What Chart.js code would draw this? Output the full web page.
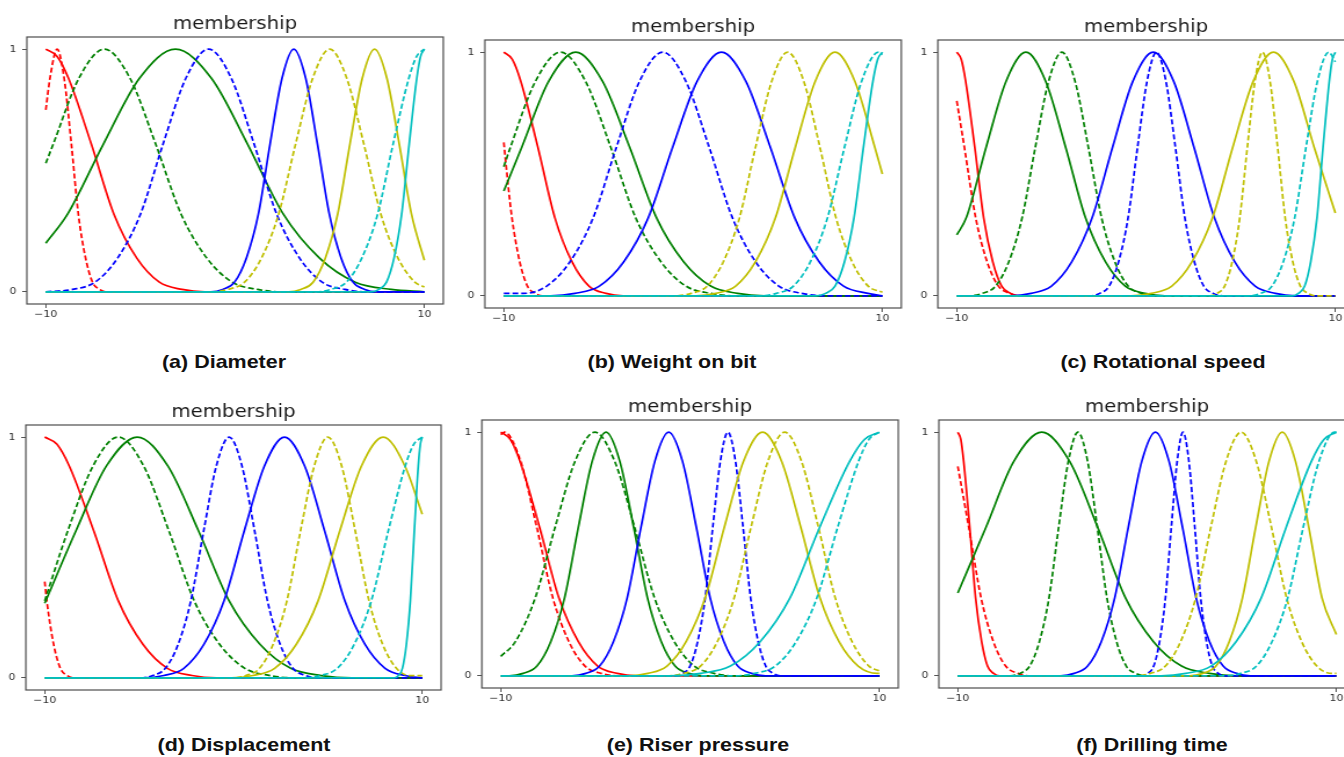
<!DOCTYPE html>
<html>
<head>
<meta charset="utf-8">
<script src="https://cdn.jsdelivr.net/npm/chart.js@4.4.1/dist/chart.umd.min.js"></script>
<style>
html, body { margin: 0; padding: 0; background: #fff; width: 1344px; height: 757px; overflow: hidden; position: relative; }
canvas { position: absolute; transform-origin: 0 0; }
.cap { position: absolute; font-family: "Liberation Sans", Arial, sans-serif; font-weight: bold; font-size: 18.5px; line-height: 18.5px; white-space: nowrap; color: #111; }
</style>
</head>
<body>
<script>
// Tick labels and texts
const xTicks = [-10, 10];
const yTicks = [0, 1];
const panelTitle = 'membership';
const captions = ['(a) Diameter', '(b) Weight on bit', '(c) Rotational speed',
                  '(d) Displacement', '(e) Riser pressure', '(f) Drilling time'];

// Curve order in every panel: red, red dashed, green, green dashed, blue, blue dashed,
// yellow, yellow dashed, cyan, cyan dashed.

// (a) Diameter
const diameterX = [
    [-10, -9.4, -8.8, -7.6, -6.4, -5.2, -4, -2.8, -1.6, 10],
    [-10, -9.78, -9.4, -9.03, -8.65, -8.28, -7.9, -7.53, -7.15, -6.78, 10],
    [-10, -8.85, -6.95, -5.05, -3.15, -1.25, 0.65, 2.55, 4.45, 6.35, 8.25, 10],
    [-10, -9.6, -8.25, -6.9, -5.55, -4.2, -2.85, -1.5, -0.15, 1.2, 2.55, 10],
    [-10, -1.28, -0.65, -0.03, 0.6, 1.23, 1.85, 2.48, 3.1, 3.73, 4.35, 4.98, 5.6, 6.23, 6.85, 7.48, 10],
    [-10, -8.6, -7.4, -6.2, -5, -3.8, -2.6, -1.4, -0.2, 1, 2.2, 3.4, 4.6, 5.8, 7, 10],
    [-10, 2.82, 3.47, 4.12, 4.77, 5.42, 6.07, 6.72, 7.37, 8.02, 8.67, 9.32, 10],
    [-10, -1.3, -0.4, 0.5, 1.4, 2.3, 3.2, 4.1, 5, 5.9, 6.8, 7.7, 8.6, 9.5, 10],
    [-10, 7.2, 7.6, 8, 8.4, 8.8, 9.2, 9.6, 9.8, 10],
    [-10, 4.23, 5.05, 5.88, 6.7, 7.53, 8.35, 9.18, 9.59, 10]
];
const diameterY = [
    [1, 0.97, 0.88, 0.61, 0.32, 0.14, 0.04, 0.01, 0, 0],
    [0.75, 0.88, 1, 0.88, 0.61, 0.32, 0.14, 0.04, 0.01, 0, 0],
    [0.2, 0.32, 0.61, 0.88, 1, 0.88, 0.61, 0.32, 0.14, 0.04, 0.01, 0],
    [0.53, 0.61, 0.88, 1, 0.88, 0.61, 0.32, 0.14, 0.04, 0.01, 0, 0],
    [0, 0, 0.01, 0.04, 0.14, 0.32, 0.61, 0.88, 1, 0.88, 0.61, 0.32, 0.14, 0.04, 0.01, 0, 0],
    [0, 0.01, 0.04, 0.14, 0.32, 0.61, 0.88, 1, 0.88, 0.61, 0.32, 0.14, 0.04, 0.01, 0, 0],
    [0, 0, 0.01, 0.04, 0.14, 0.32, 0.61, 0.88, 1, 0.88, 0.61, 0.32, 0.13],
    [0, 0, 0.01, 0.04, 0.14, 0.32, 0.61, 0.88, 1, 0.88, 0.61, 0.32, 0.14, 0.04, 0.02],
    [0, 0, 0.01, 0.04, 0.14, 0.32, 0.61, 0.88, 0.97, 1],
    [0, 0, 0.01, 0.04, 0.14, 0.32, 0.61, 0.88, 0.97, 1]
];

// (b) Weight on bit
const weightOnBitX = [
    [-10, -9.55, -9.1, -8.2, -7.3, -6.4, -5.5, -4.6, -3.7, 10],
    [-10, -9.78, -9.57, -9.16, -8.75, -8.34, -7.93, 10],
    [-10, -9.05, -7.63, -6.2, -4.78, -3.35, -1.93, -0.5, 0.93, 2.35, 3.78, 10],
    [-10, -9.65, -8.33, -7, -5.68, -4.35, -3.03, -1.7, -0.38, 0.95, 2.28, 10],
    [-10, -7.53, -6.24, -4.95, -3.66, -2.37, -1.08, 0.21, 1.5, 2.79, 4.08, 5.37, 6.66, 7.95, 9.24, 10],
    [-10, -8.95, -7.73, -6.5, -5.28, -4.05, -2.83, -1.6, -0.38, 0.85, 2.08, 3.3, 4.53, 5.75, 6.98, 10],
    [-10, 0.15, 1.2, 2.25, 3.3, 4.35, 5.4, 6.45, 7.5, 8.55, 9.6, 10],
    [-10, -0.95, -0.1, 0.75, 1.6, 2.45, 3.3, 4.15, 5, 5.85, 6.7, 7.55, 8.4, 9.25, 10],
    [-10, 6.5, 7, 7.5, 8, 8.5, 9, 9.5, 9.75, 10],
    [-10, 3.5, 4.4, 5.3, 6.2, 7.1, 8, 8.9, 9.8, 10]
];
const weightOnBitY = [
    [1, 0.97, 0.88, 0.61, 0.32, 0.14, 0.04, 0.01, 0, 0],
    [0.63, 0.46, 0.32, 0.14, 0.04, 0.01, 0, 0],
    [0.43, 0.61, 0.88, 1, 0.88, 0.61, 0.32, 0.14, 0.04, 0.01, 0, 0],
    [0.53, 0.61, 0.88, 1, 0.88, 0.61, 0.32, 0.14, 0.04, 0.01, 0, 0],
    [0, 0, 0.01, 0.04, 0.14, 0.32, 0.61, 0.88, 1, 0.88, 0.61, 0.32, 0.14, 0.04, 0.01, 0],
    [0.01, 0.01, 0.04, 0.14, 0.32, 0.61, 0.88, 1, 0.88, 0.61, 0.32, 0.14, 0.04, 0.01, 0, 0],
    [0, 0, 0.01, 0.04, 0.14, 0.32, 0.61, 0.88, 1, 0.88, 0.61, 0.5],
    [0, 0, 0.01, 0.04, 0.14, 0.32, 0.61, 0.88, 1, 0.88, 0.61, 0.32, 0.14, 0.04, 0.015],
    [0, 0, 0.01, 0.04, 0.14, 0.32, 0.61, 0.88, 0.97, 1],
    [0, 0, 0.01, 0.04, 0.14, 0.32, 0.61, 0.88, 1, 0.99]
];

// (c) Rotational speed
const rotationalSpeedX = [
    [-10, -9.76, -9.53, -9.05, -8.58, -8.1, -7.63, -7.15, -6.68, 10],
    [-10, -9.6, -9, -8.4, -7.8, -7.2, -6.6, 10],
    [-10, -9.5, -8.45, -7.4, -6.35, -5.3, -4.25, -3.2, -2.15, -1.1, -0.05, 1, 10],
    [-10, -9.35, -8.65, -7.95, -7.25, -6.55, -5.85, -5.15, -4.45, -3.75, -3.05, -2.35, -1.65, -0.95, -0.25, 0.45, 10],
    [-10, -7.15, -6.07, -5, -3.92, -2.85, -1.77, -0.7, 0.38, 1.46, 2.53, 3.61, 4.68, 5.76, 6.83, 7.91, 10],
    [-10, -2.95, -2.45, -1.95, -1.45, -0.95, -0.45, 0.05, 0.55, 1.05, 1.55, 2.05, 2.55, 3.05, 3.55, 4.05, 10],
    [-10, -0.8, 0.28, 1.36, 2.43, 3.51, 4.58, 5.66, 6.73, 7.81, 8.88, 10],
    [-10, 3.35, 3.75, 4.15, 4.55, 4.95, 5.35, 5.75, 6.15, 6.55, 6.95, 7.35, 7.75, 8.15, 8.55, 8.95, 10],
    [-10, 7.73, 8.05, 8.38, 8.7, 9.03, 9.35, 9.68, 9.84, 10],
    [-10, 5.45, 6.05, 6.65, 7.25, 7.85, 8.45, 9.05, 9.65, 10]
];
const rotationalSpeedY = [
    [1, 0.97, 0.88, 0.61, 0.32, 0.14, 0.04, 0.01, 0, 0],
    [0.8, 0.61, 0.32, 0.14, 0.04, 0.01, 0, 0],
    [0.25, 0.32, 0.61, 0.88, 1, 0.88, 0.61, 0.32, 0.14, 0.04, 0.01, 0, 0],
    [0, 0, 0.01, 0.04, 0.14, 0.32, 0.61, 0.88, 1, 0.88, 0.61, 0.32, 0.14, 0.04, 0.01, 0, 0],
    [0, 0, 0.01, 0.04, 0.14, 0.32, 0.61, 0.88, 1, 0.88, 0.61, 0.32, 0.14, 0.04, 0.01, 0, 0],
    [0, 0, 0.01, 0.04, 0.14, 0.32, 0.61, 0.88, 1, 0.88, 0.61, 0.32, 0.14, 0.04, 0.01, 0, 0],
    [0, 0, 0.01, 0.04, 0.14, 0.32, 0.61, 0.88, 1, 0.88, 0.61, 0.34],
    [0, 0, 0.01, 0.04, 0.14, 0.32, 0.61, 0.88, 1, 0.88, 0.61, 0.32, 0.14, 0.04, 0.01, 0, 0],
    [0, 0, 0.01, 0.04, 0.14, 0.32, 0.61, 0.88, 0.97, 1],
    [0, 0, 0.01, 0.04, 0.14, 0.32, 0.61, 0.88, 1, 0.96]
];

// (d) Displacement
const displacementX = [
    [-10, -9.35, -8.7, -7.4, -6.1, -4.8, -3.5, -2.2, -0.9, 10],
    [-10, -9.89, -9.53, -9.17, -8.81, -8.45, 10],
    [-10, -8.35, -6.73, -5.1, -3.48, -1.85, -0.23, 1.4, 3.03, 4.65, 6.28, 10],
    [-10, -8.78, -7.44, -6.1, -4.76, -3.42, -2.08, -0.74, 0.6, 1.94, 3.28, 10],
    [-10, -4.76, -3.69, -2.63, -1.56, -0.5, 0.57, 1.64, 2.7, 3.77, 4.83, 5.9, 6.96, 8.03, 9.09, 10],
    [-10, -4.96, -4.28, -3.61, -2.93, -2.26, -1.58, -0.91, -0.23, 0.45, 1.12, 1.8, 2.47, 3.15, 3.82, 4.5, 10],
    [-10, -0.12, 1.03, 2.18, 3.33, 4.48, 5.63, 6.78, 7.93, 9.08, 10],
    [-10, -0.08, 0.65, 1.38, 2.1, 2.83, 3.55, 4.28, 5, 5.73, 6.45, 7.18, 7.9, 8.63, 9.35, 10],
    [-10, 8.53, 8.74, 8.95, 9.16, 9.37, 9.58, 9.79, 9.9, 10],
    [-10, 3.7, 4.6, 5.5, 6.4, 7.3, 8.2, 9.1, 9.55, 10]
];
const displacementY = [
    [1, 0.97, 0.88, 0.61, 0.32, 0.14, 0.04, 0.01, 0, 0],
    [0.4, 0.32, 0.14, 0.04, 0.01, 0, 0],
    [0.31, 0.61, 0.88, 1, 0.88, 0.61, 0.32, 0.14, 0.04, 0.01, 0, 0],
    [0.32, 0.61, 0.88, 1, 0.88, 0.61, 0.32, 0.14, 0.04, 0.01, 0, 0],
    [0, 0, 0.01, 0.04, 0.14, 0.32, 0.61, 0.88, 1, 0.88, 0.61, 0.32, 0.14, 0.04, 0.01, 0],
    [0, 0, 0.01, 0.04, 0.14, 0.32, 0.61, 0.88, 1, 0.88, 0.61, 0.32, 0.14, 0.04, 0.01, 0, 0],
    [0, 0, 0.01, 0.04, 0.14, 0.32, 0.61, 0.88, 1, 0.88, 0.68],
    [0, 0, 0.01, 0.04, 0.14, 0.32, 0.61, 0.88, 1, 0.88, 0.61, 0.32, 0.14, 0.04, 0.01, 0.01],
    [0, 0, 0.01, 0.04, 0.14, 0.32, 0.61, 0.88, 0.97, 1],
    [0, 0, 0.01, 0.04, 0.14, 0.32, 0.61, 0.88, 0.97, 1]
];

// (e) Riser pressure
const riserPressureX = [
    [-10, -9.49, -8.98, -7.95, -6.93, -5.9, -4.88, -3.85, -2.83, 10],
    [-10, -9.8, -8.95, -8.1, -7.25, -6.4, -5.55, -4.7, -3.85, 10],
    [-10, -9.55, -8.82, -8.09, -7.36, -6.63, -5.9, -5.17, -4.44, -3.71, -2.98, -2.25, -1.52, -0.79, -0.06, 0.67, 10],
    [-10, -9.23, -8.18, -7.13, -6.08, -5.03, -3.98, -2.93, -1.88, -0.83, 0.22, 1.27, 2.32, 10],
    [-10, -6.24, -5.51, -4.78, -4.05, -3.32, -2.59, -1.86, -1.13, -0.4, 0.33, 1.06, 1.79, 2.52, 3.25, 3.98, 10],
    [-10, -0.8, -0.4, 0, 0.4, 0.8, 1.2, 1.6, 2, 2.4, 2.8, 3.2, 3.6, 4, 4.4, 4.8, 10],
    [-10, -3.24, -2.23, -1.22, -0.21, 0.8, 1.81, 2.82, 3.83, 4.84, 5.85, 6.86, 7.87, 8.88, 9.89, 10],
    [-10, -1.23, -0.34, 0.55, 1.44, 2.33, 3.22, 4.11, 5, 5.89, 6.78, 7.67, 8.56, 9.45, 10],
    [-10, -1.03, 0.55, 2.13, 3.7, 5.28, 6.85, 8.43, 9.21, 10],
    [-10, 2.3, 3.4, 4.5, 5.6, 6.7, 7.8, 8.9, 9.45, 10]
];
const riserPressureY = [
    [1, 0.97, 0.88, 0.61, 0.32, 0.14, 0.04, 0.01, 0, 0],
    [0.99, 1, 0.88, 0.61, 0.32, 0.14, 0.04, 0.01, 0, 0],
    [0, 0, 0.01, 0.04, 0.14, 0.32, 0.61, 0.88, 1, 0.88, 0.61, 0.32, 0.14, 0.04, 0.01, 0, 0],
    [0.08, 0.14, 0.32, 0.61, 0.88, 1, 0.88, 0.61, 0.32, 0.14, 0.04, 0.01, 0, 0],
    [0, 0, 0.01, 0.04, 0.14, 0.32, 0.61, 0.88, 1, 0.88, 0.61, 0.32, 0.14, 0.04, 0.01, 0, 0],
    [0, 0, 0.01, 0.04, 0.14, 0.32, 0.61, 0.88, 1, 0.88, 0.61, 0.32, 0.14, 0.04, 0.01, 0, 0],
    [0, 0, 0.01, 0.04, 0.14, 0.32, 0.61, 0.88, 1, 0.88, 0.61, 0.32, 0.14, 0.04, 0.01, 0.01],
    [0, 0, 0.01, 0.04, 0.14, 0.32, 0.61, 0.88, 1, 0.88, 0.61, 0.32, 0.14, 0.04, 0.02],
    [0, 0, 0.01, 0.04, 0.14, 0.32, 0.61, 0.88, 0.97, 1],
    [0, 0, 0.01, 0.04, 0.14, 0.32, 0.61, 0.88, 0.97, 1]
];

// (f) Drilling time
const drillingTimeX = [
    [-10, -9.84, -9.69, -9.37, -9.06, -8.74, -8.43, -8.11, -7.8, 10],
    [-10, -9.42, -8.77, -8.12, -7.47, -6.82, -6.17, 10],
    [-10, -8.51, -7.04, -5.56, -4.09, -2.61, -1.14, 0.34, 1.82, 3.29, 4.77, 10],
    [-10, -7.22, -6.71, -6.2, -5.69, -5.18, -4.67, -4.16, -3.65, -3.14, -2.63, -2.12, -1.61, -1.1, -0.59, -0.08, 10],
    [-10, -4.57, -3.85, -3.14, -2.42, -1.71, -0.99, -0.28, 0.44, 1.16, 1.87, 2.59, 3.3, 4.02, 4.73, 5.45, 10],
    [-10, -0.27, 0.04, 0.35, 0.66, 0.97, 1.28, 1.59, 1.9, 2.21, 2.52, 2.83, 3.14, 3.45, 3.76, 4.07, 10],
    [-10, 2.24, 2.94, 3.64, 4.34, 5.04, 5.74, 6.44, 7.14, 7.84, 8.54, 9.24, 10],
    [-10, -0.63, 0.17, 0.97, 1.77, 2.57, 3.37, 4.17, 4.97, 5.77, 6.57, 7.37, 8.17, 8.97, 9.77, 10],
    [-10, 0.73, 2.05, 3.38, 4.7, 6.03, 7.35, 8.68, 9.34, 10],
    [-10, 4.13, 4.95, 5.78, 6.6, 7.43, 8.25, 9.08, 9.9, 10]
];
const drillingTimeY = [
    [1, 0.97, 0.88, 0.61, 0.32, 0.14, 0.04, 0.01, 0, 0],
    [0.86, 0.61, 0.32, 0.14, 0.04, 0.01, 0, 0],
    [0.34, 0.61, 0.88, 1, 0.88, 0.61, 0.32, 0.14, 0.04, 0.01, 0, 0],
    [0, 0, 0.01, 0.04, 0.14, 0.32, 0.61, 0.88, 1, 0.88, 0.61, 0.32, 0.14, 0.04, 0.01, 0, 0],
    [0, 0, 0.01, 0.04, 0.14, 0.32, 0.61, 0.88, 1, 0.88, 0.61, 0.32, 0.14, 0.04, 0.01, 0, 0],
    [0, 0, 0.01, 0.04, 0.14, 0.32, 0.61, 0.88, 1, 0.88, 0.61, 0.32, 0.14, 0.04, 0.01, 0, 0],
    [0, 0, 0.01, 0.04, 0.14, 0.32, 0.61, 0.88, 1, 0.88, 0.61, 0.32, 0.17],
    [0, 0, 0.01, 0.04, 0.14, 0.32, 0.61, 0.88, 1, 0.88, 0.61, 0.32, 0.14, 0.04, 0.01, 0.01],
    [0, 0, 0.01, 0.04, 0.14, 0.32, 0.61, 0.88, 0.97, 1],
    [0, 0, 0.01, 0.04, 0.14, 0.32, 0.61, 0.88, 1, 1]
];

// ---- styling / layout ----
const STRETCH = 1.16;      // the reference figure is stretched horizontally
const AXIS_W = 24, TOP_H = 40, BOTTOM_H = 28;
const DASH = [5, 2.5];
const lineStyles = [
    { color: '#ff0000', dash: [] }, { color: '#ff0000', dash: DASH },
    { color: '#008000', dash: [] }, { color: '#008000', dash: DASH },
    { color: '#0000ff', dash: [] }, { color: '#0000ff', dash: DASH },
    { color: '#bfbf00', dash: [] }, { color: '#bfbf00', dash: DASH },
    { color: '#00bfbf', dash: [] }, { color: '#00bfbf', dash: DASH }
];

// frame boxes in page pixels: left, right, top, bottom; caption centre x and baseline
const panels = [
    { xs: diameterX, ys: diameterY, box: [27, 443, 37, 304], cap: [223.5, 369] },
    { xs: weightOnBitX, ys: weightOnBitY, box: [485, 902, 40, 308], cap: [671.5, 369] },
    { xs: rotationalSpeedX, ys: rotationalSpeedY, box: [938, 1354, 40, 308], cap: [1163, 369] },
    { xs: displacementX, ys: displacementY, box: [26, 441, 425, 690], cap: [244, 752] },
    { xs: riserPressureX, ys: riserPressureY, box: [482, 898, 420, 688], cap: [698, 752] },
    { xs: drillingTimeX, ys: drillingTimeY, box: [939, 1355, 420, 688], cap: [1151.5, 752] }
];

const framePlugin = {
    id: 'frame',
    afterDatasetsDraw(chart) {
        const a = chart.chartArea, ctx = chart.ctx;
        ctx.save();
        ctx.strokeStyle = '#4d4d4d';
        ctx.lineWidth = 1.2;
        ctx.strokeRect(a.left, a.top, a.right - a.left, a.bottom - a.top);
        ctx.restore();
    }
};

function fmtTick(v) {
    return v < 0 ? '\u2212' + Math.abs(v) : String(v);
}

const tickFont = { family: 'DejaVu Sans', size: 9.5 };

panels.forEach(function(p, n) {
    const [L, R, T, B] = p.box;
    const innerW = Math.round((R - L) / STRETCH);
    const canvas = document.createElement('canvas');
    canvas.width = innerW + 2 * AXIS_W;
    canvas.height = (B - T) + TOP_H + BOTTOM_H;
    canvas.style.left = (L - AXIS_W * STRETCH) + 'px';
    canvas.style.top = (T - TOP_H) + 'px';
    canvas.style.transform = 'scaleX(' + STRETCH + ')';
    document.body.appendChild(canvas);

    const datasets = p.xs.map(function(xs, i) {
        return {
            data: xs.map((x, j) => ({ x: x, y: p.ys[i][j] })),
            borderColor: lineStyles[i].color,
            borderDash: lineStyles[i].dash,
            borderWidth: 1.7,
            pointRadius: 0,
            cubicInterpolationMode: 'monotone',
            fill: false,
            order: p.xs.length - i
        };
    });

    new Chart(canvas, {
        type: 'line',
        data: { datasets: datasets },
        options: {
            responsive: false,
            animation: false,
            layout: { padding: 0 },
            plugins: {
                legend: { display: false },
                tooltip: { enabled: false },
                title: {
                    display: true,
                    text: panelTitle,
                    color: '#1a1a1a',
                    font: { family: 'DejaVu Sans', size: 17, weight: 'normal', lineHeight: 1.2 },
                    padding: { top: TOP_H - 17 * 1.2 - 2, bottom: 2 }
                }
            },
            scales: {
                x: {
                    type: 'linear', min: -11, max: 11,
                    afterBuildTicks: s => { s.ticks = xTicks.map(v => ({ value: v })); },
                    afterFit: s => { s.height = BOTTOM_H; },
                    ticks: { callback: fmtTick, font: tickFont, color: '#333', padding: 1, maxRotation: 0, autoSkip: false },
                    grid: { drawOnChartArea: false, drawTicks: true, tickLength: 4, color: '#555' },
                    border: { display: false }
                },
                y: {
                    min: -0.05, max: 1.05,
                    afterBuildTicks: s => { s.ticks = yTicks.map(v => ({ value: v })); },
                    afterFit: s => { s.width = AXIS_W; },
                    ticks: { callback: fmtTick, font: tickFont, color: '#333', padding: 5 },
                    grid: { drawOnChartArea: false, drawTicks: true, tickLength: 4, color: '#555' },
                    border: { display: false }
                },
                yr: {
                    position: 'right', min: 0, max: 1,
                    afterFit: s => { s.width = AXIS_W; },
                    ticks: { display: false },
                    grid: { display: false },
                    border: { display: false }
                }
            }
        },
        plugins: [framePlugin]
    });

    const cap = document.createElement('div');
    cap.className = 'cap';
    cap.textContent = captions[n];
    cap.style.left = p.cap[0] + 'px';
    cap.style.top = (p.cap[1] - 15.66) + 'px';
    cap.style.transform = 'translateX(-50%) scaleX(' + STRETCH + ')';
    document.body.appendChild(cap);
});
</script>
</body>
</html>
